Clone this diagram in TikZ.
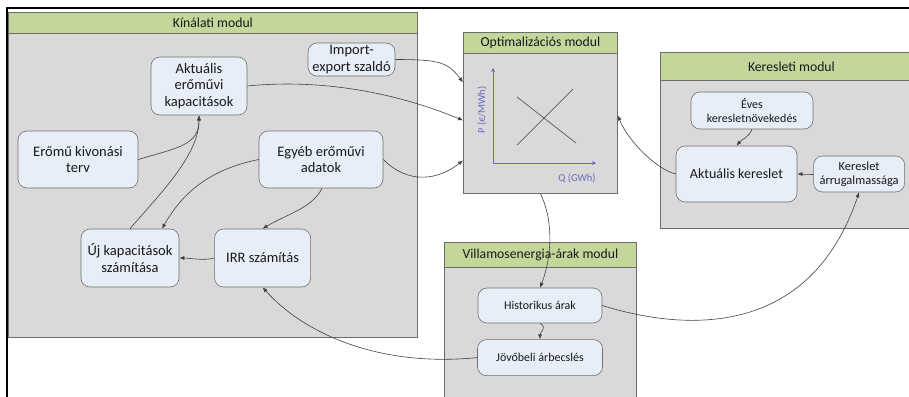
\documentclass[tikz,border=0pt]{standalone}
\usepackage{fontspec}
\setmainfont{Carlito}
\usetikzlibrary{positioning,arrows.meta,calc}
\definecolor{headgreen}{HTML}{C4D79B}
\definecolor{bodygray}{HTML}{D9D9D9}
\definecolor{unitblue}{HTML}{E7EEF8}
\definecolor{edgegray}{HTML}{6F6F6F}
\definecolor{axisblue}{HTML}{6A6AC0}

\begin{document}
\begin{tikzpicture}[x=1pt, y=-1pt,
  every node/.style={font=\fontsize{14.5}{16.5}\selectfont, text=black!90},
  modbox/.style ={draw=gray!85!black, fill=bodygray, line width=0.8pt,
                  anchor=north west, inner sep=0pt},
  modhead/.style={draw=gray!85!black, fill=headgreen, line width=0.8pt,
                  anchor=north, inner sep=0pt, font=\fontsize{13.7}{16}\selectfont},
  unit/.style   ={draw=edgegray, fill=unitblue, rounded corners=9pt,
                  align=center, inner sep=2pt, line width=0.6pt},
  small/.style  ={font=\fontsize{12}{14}\selectfont},
  arr/.style    ={-{Latex[length=5pt,width=4pt]}, draw=black!75, line width=0.6pt},
  axis/.style   ={-{Stealth[length=4pt,width=4pt]}, draw=axisblue, line width=0.8pt}]

\useasboundingbox (0,0) rectangle (909,396);

%% modules
\node[modbox, minimum width=409, minimum height=325] (kin) at (8,12) {};
\node[modhead, minimum width=409, minimum height=21] (kinH) at (kin.north) {Kínálati modul};
\node[modbox, minimum width=154, minimum height=161] (opt) at (463,32) {};
\node[modhead, minimum width=154, minimum height=21] (optH) at (opt.north) {Optimalizációs modul};
\node[modbox, minimum width=262, minimum height=176] (ker) at (660,52) {};
\node[modhead, minimum width=262, minimum height=28] (kerH) at (ker.north) {Keresleti modul};
\node[modbox, minimum width=192, minimum height=162] (vil) at (444,242) {};
\node[modhead, minimum width=192, minimum height=25] (vilH) at (vil.north) {Villamosenergia-árak modul};

%% outer frame
\draw[line width=2pt] (7,400) -- (7,8) -- (912,8);

%% supply side
\node[unit, minimum width=87, minimum height=33] (imp) at (351.5,59.5) {Import-\\export szaldó};
\node[unit, minimum width=96, minimum height=58] (akt) at (199,86) {Aktuális\\erőművi\\kapacitások};
\node[unit, minimum width=120, minimum height=57] (erk) at (78,159.5) {Erőmű kivonási\\terv};
\node[unit, minimum width=124, minimum height=57] (egy) at (321,159.5) {Egyéb erőművi\\adatok};
\node[unit, minimum width=98, minimum height=58] (uj) at (130,258) {Új kapacitások\\számítása};
\node[unit, minimum width=96, minimum height=58, right=35pt of uj] (irr) {IRR számítás};

%% optimisation chart
\coordinate (orig) at (493,163);
\draw[axis] (orig) -- (493,68);
\draw[axis] (orig) -- (596,163);
\node[rotate=90, font=\fontsize{10.5}{12}\selectfont, text=axisblue] (plab) at (482,110) {P (€/MWh)};
\node[font=\fontsize{10.5}{12}\selectfont, text=axisblue] (qlab) at (577,178) {Q (GWh)};
\draw[black!65, line width=0.7pt] (517,97) -- (576,143);
\draw[black!65, line width=0.7pt] (517,145) -- (573,89);

%% demand side
\node[unit, small, minimum width=122, minimum height=37] (eves) at (752,110.5) {Éves\\keresletnövekedés};
\node[unit, minimum width=121, minimum height=56, font=\fontsize{14}{16}\selectfont] (akk) at (736.5,174) {Aktuális kereslet};
\node[unit, minimum width=91, minimum height=36, right=16pt of akk, font=\fontsize{12.5}{14.5}\selectfont] (kar) {Kereslet\\árrugalmassága};

%% prices
\node[unit, small, minimum width=124, minimum height=35] (hist) at (540,305.5) {Historikus árak};
\node[unit, small, minimum width=125, minimum height=36, below=16pt of hist] (jov) {Jövőbeli árbecslés};

%% connectors
\draw[arr] (imp.east) .. controls +(45,0) and +(-15,-20) .. ([yshift=30.5pt]opt.west);
\draw[arr] (akt.east) .. controls +(80,-8) and +(-60,-25) .. ([yshift=-7.5pt]opt.west);
\draw[arr] (egy.east) .. controls +(25,25) and +(-25,20) .. ([yshift=-47.5pt]opt.west);
\draw[arr] (erk.east) .. controls +(40,-12) and +(0,30) .. (akt.south);
\draw[arr] (uj.north) .. controls +(30,-35) and +(0,40) .. (akt.south);
\draw[arr] (egy.west) .. controls +(-50,10) and +(20,-35) .. ([xshift=32pt]uj.north);
\draw[arr] ([xshift=1pt]egy.south) .. controls +(-10,20) and +(25,-15) .. (irr.north);
\draw[arr] (irr.west) .. controls +(-10,3) and +(10,0) .. (uj.east);
\draw[arr] (jov.west) .. controls +(-100,10) and +(40,45) .. (irr.south);
\draw[arr] (opt.south) .. controls +(15,30) and +(10,-25) .. (hist.north);
\draw[arr] (hist.south) .. controls +(8,5) and +(0,-8) .. (jov.north);
\draw[arr] (hist.east) .. controls +(80,25) and +(-50,148) .. (kar.south);
\draw[arr] (akk.west) .. controls +(-20,-5) and +(10,25) .. ([yshift=-2.5pt]opt.east);
\draw[arr] (eves.south) .. controls +(-3,8) and +(5,-6) .. (akk.north);
\draw[arr] (kar.west) .. controls +(-6,0) and +(4,0) .. (akk.east);
\end{tikzpicture}
\end{document}
